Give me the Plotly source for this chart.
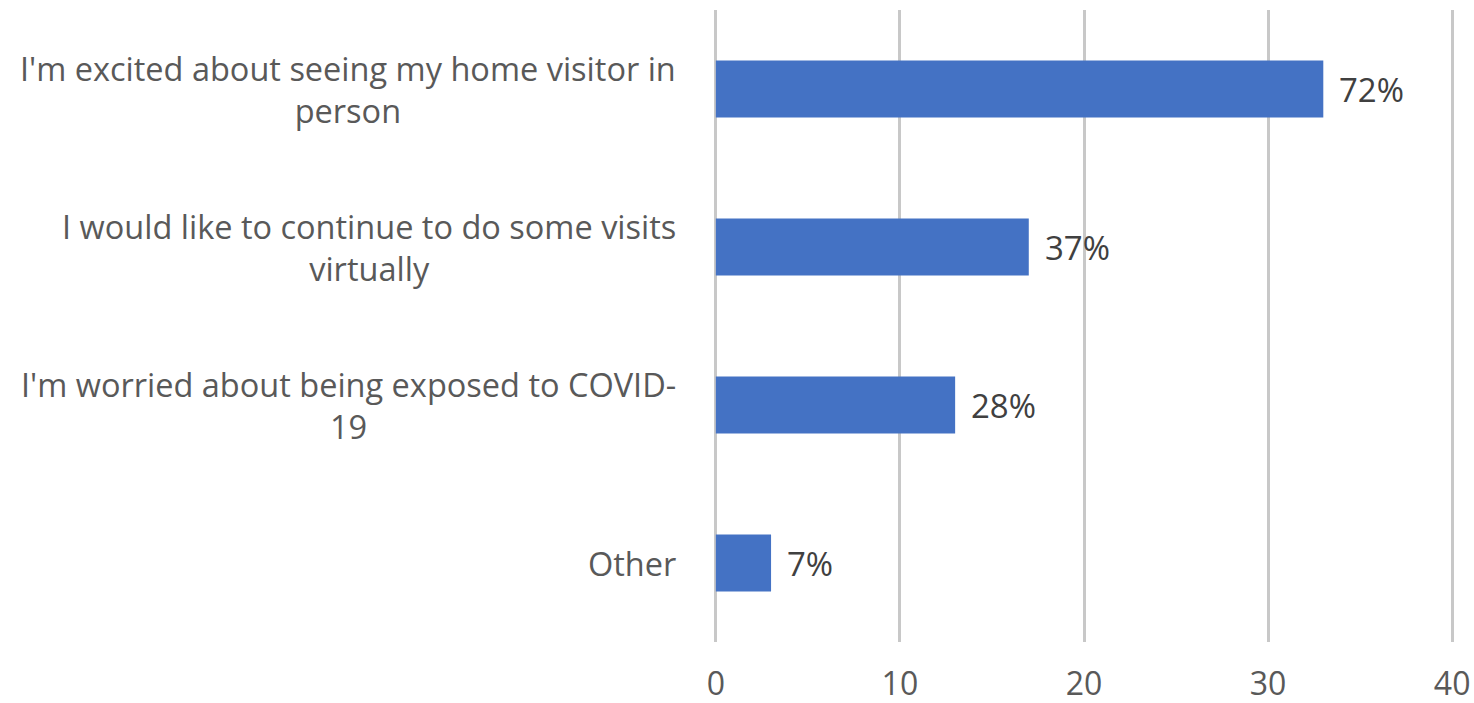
import plotly.graph_objects as go

categories = [
    "I'm excited about seeing my home visitor in<br>person",
    "I would like to continue to do some visits<br>virtually",
    "I'm worried about being exposed to COVID-<br>19",
    "Other",
]
values = [33, 17, 13, 3]
value_labels = ["72%", "37%", "28%", "7%"]
x_ticks = [0, 10, 20, 30, 40]

FONT = "Open Sans"
GRAY = "#595959"

fig = go.Figure()
fig.add_trace(go.Bar(
    x=values,
    y=list(range(len(categories))),
    orientation="h",
    marker=dict(color="#4472C4", line=dict(width=0)),
    width=0.36,
    hoverinfo="skip",
))

for i, (v, lab, cat) in enumerate(zip(values, value_labels, categories)):
    fig.add_annotation(x=v, y=i, xref="x", yref="y", text=lab, showarrow=False,
                       xanchor="left", xshift=14,
                       font=dict(family=FONT, size=33, color="#404040"))
    fig.add_annotation(x=0, y=i, xref="paper", yref="y", text=cat, showarrow=False,
                       xanchor="right", xshift=-36, align="center",
                       font=dict(family=FONT, size=32.5, color=GRAY))

fig.update_layout(
    width=1474, height=703,
    margin=dict(l=714, r=20, t=10, b=61),
    plot_bgcolor="white", paper_bgcolor="white",
    showlegend=False,
    font=dict(family=FONT, size=32, color=GRAY),
)
fig.update_xaxes(range=[-0.1, 40.1], tickvals=x_ticks, showgrid=True, gridcolor="#C8C8C8",
                 gridwidth=2.5, zeroline=False, showline=False, automargin=False,
                 ticks="", ticklabelstandoff=20,
                 tickfont=dict(family=FONT, size=32, color=GRAY))
fig.update_yaxes(range=[3.5, -0.5], showticklabels=False, showgrid=False,
                 zeroline=False, showline=False, automargin=False)

fig.write_html("out.html")
